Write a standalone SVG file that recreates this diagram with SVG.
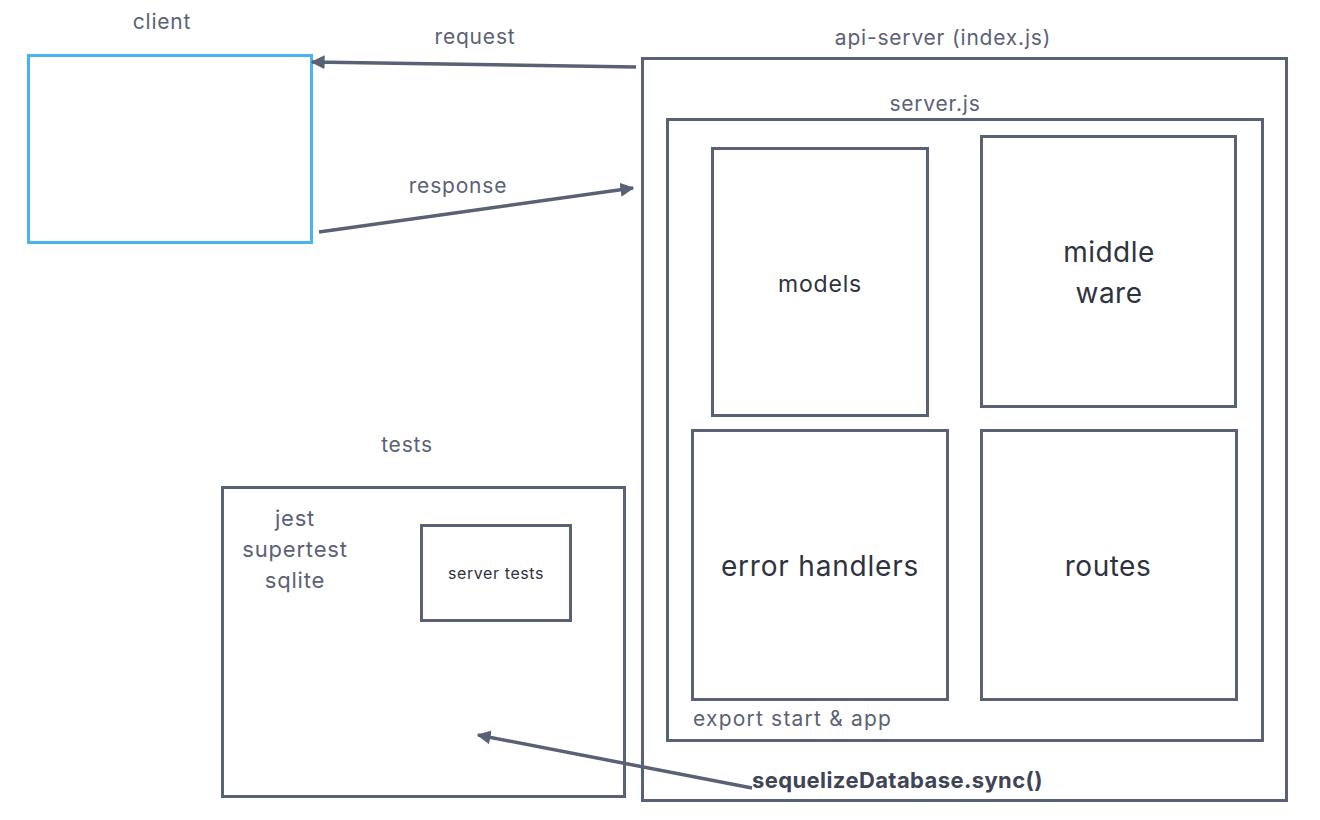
<svg xmlns="http://www.w3.org/2000/svg" width="1320" height="820" viewBox="0 0 1320 820">
<style>
.box{fill:none;stroke:#596175;stroke-width:3}
.lbl{font-family:Inter,"Liberation Sans",sans-serif;fill:#5b6275;text-anchor:middle;letter-spacing:0.8px}
.dk{font-family:Inter,"Liberation Sans",sans-serif;fill:#2f3340;text-anchor:middle;letter-spacing:0.5px}
.conn{stroke:#596175;stroke-width:3.5;fill:none}
</style>
<defs>
<marker id="ah" viewBox="0 0 10 10" refX="9" refY="5" markerWidth="4" markerHeight="4" orient="auto" markerUnits="strokeWidth">
<path d="M0,0 L10,5 L0,10 z" fill="#596175"/>
</marker>
</defs>
<rect width="1320" height="820" fill="#ffffff"/>
<g id="client">
<rect x="28.5" y="55.5" width="283" height="187" fill="none" stroke="#4ab2ef" stroke-width="3"/>
<text class="lbl" x="162" y="29" font-size="21">client</text>
</g>
<g id="api-server">
<rect class="box" x="642.5" y="58.5" width="644" height="742"/>
<text class="lbl" x="943" y="45" font-size="21">api-server (index.js)</text>
</g>
<g id="server-js">
<rect class="box" x="667.5" y="119.5" width="595" height="621"/>
<text class="lbl" x="935" y="111" font-size="21">server.js</text>
<text class="lbl" x="693" y="726" font-size="21" style="text-anchor:start;letter-spacing:1.2px">export start &amp; app</text>
</g>
<g id="models">
<rect class="box" x="712.5" y="148.5" width="215" height="267"/>
<text class="dk" x="820" y="292" font-size="23" style="letter-spacing:0.8px">models</text>
</g>
<g id="middleware">
<rect class="box" x="981.5" y="136.5" width="254" height="270"/>
<text class="dk" x="1109" y="262" font-size="28">middle</text>
<text class="dk" x="1109" y="303" font-size="28">ware</text>
</g>
<g id="error-handlers">
<rect class="box" x="692.5" y="430.5" width="255" height="269"/>
<text class="dk" x="820" y="576" font-size="28" style="letter-spacing:0.8px">error handlers</text>
</g>
<g id="routes">
<rect class="box" x="981.5" y="430.5" width="255" height="269"/>
<text class="dk" x="1108" y="576" font-size="28">routes</text>
</g>
<g id="tests">
<rect class="box" x="222.5" y="487.5" width="402" height="309"/>
<text class="lbl" x="407" y="452" font-size="21">tests</text>
<text class="lbl" x="295" y="526" font-size="22">jest</text>
<text class="lbl" x="295" y="557" font-size="22">supertest</text>
<text class="lbl" x="295" y="588" font-size="22">sqlite</text>
</g>
<g id="server-tests">
<rect class="box" x="421.5" y="525.5" width="149" height="95"/>
<text class="dk" x="496" y="579" font-size="16" style="letter-spacing:0.6px">server tests</text>
</g>
<g id="connectors">
<line class="conn" x1="636" y1="67" x2="312" y2="62" marker-end="url(#ah)"/>
<text class="lbl" x="475" y="44" font-size="21">request</text>
<line class="conn" x1="319" y1="232" x2="633" y2="188" marker-end="url(#ah)"/>
<text class="lbl" x="458" y="193" font-size="21">response</text>
<line class="conn" x1="752" y1="788" x2="478" y2="735" marker-end="url(#ah)"/>
<text x="752" y="788" font-size="22" font-weight="bold" font-family="Inter,'Liberation Sans',sans-serif" fill="#3f4456" letter-spacing="0.4">sequelizeDatabase.sync()</text>
</g>
</svg>
